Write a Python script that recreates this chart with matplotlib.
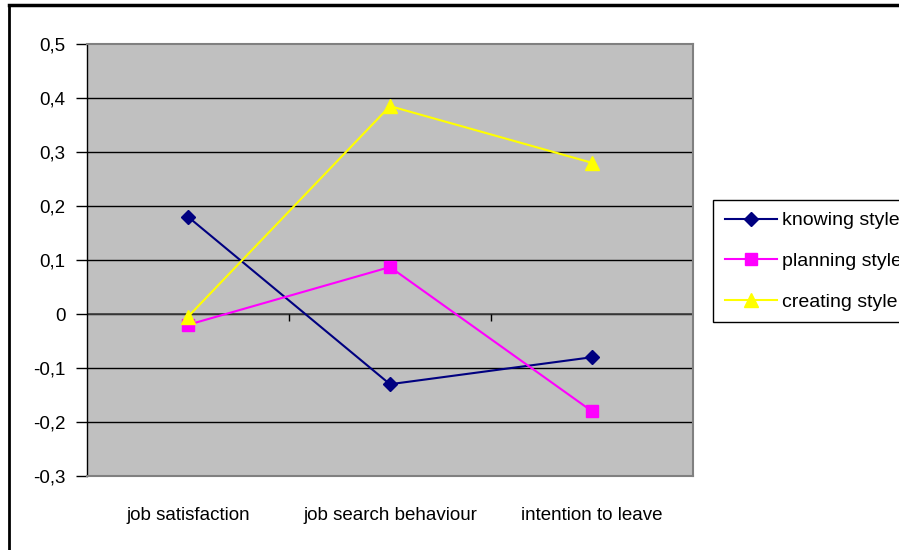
import numpy as np
import matplotlib.pyplot as plt
from matplotlib.lines import Line2D

plt.rcParams['font.family'] = ['Liberation Sans', 'DejaVu Sans']

categories = ['job satisfaction', 'job search behaviour', 'intention to leave']
knowing = [0.18, -0.13, -0.08]
planning = [-0.02, 0.087, -0.18]
creating = [-0.005, 0.385, 0.28]
yticks = [-0.3, -0.2, -0.1, 0, 0.1, 0.2, 0.3, 0.4, 0.5]
ytick_labels = ['-0,3', '-0,2', '-0,1', '0', '0,1', '0,2', '0,3', '0,4', '0,5']

fig = plt.figure(figsize=(8.99, 5.5), dpi=100)
ax = fig.add_axes([0.0968, 0.1345, 0.674, 0.7855])
ax.set_facecolor('#c0c0c0')

x = np.arange(len(categories))
ax.plot(x, knowing, color='#000080', marker='D', markersize=7, lw=1.5, label='knowing style', zorder=3)
ax.plot(x, planning, color='#ff00ff', marker='s', markersize=8, lw=1.5, label='planning style', zorder=3)
ax.plot(x, creating, color='#ffff00', marker='^', markersize=10, lw=1.5, label='creating style', zorder=3)

ax.set_xlim(-0.5, 2.5)
ax.set_ylim(-0.3, 0.5)
ax.set_yticks(yticks)
ax.set_yticklabels(ytick_labels, fontsize=13.5)
ax.set_xticks(x)
ax.set_xticklabels(categories, fontsize=13.5)
ax.tick_params(axis='x', length=0, pad=22)
ax.tick_params(axis='y', direction='out', length=8, width=1, pad=7.5)
for yv in yticks[1:-1]:
    ax.axhline(yv, color='black', lw=1, zorder=1)
ax.axhline(0, color='#404040', lw=1.2, zorder=2)
ax.vlines([0.5, 1.5], -0.013, 0, color='black', lw=1, zorder=2)

for s in ['top', 'right', 'bottom']:
    ax.spines[s].set_color('#808080')
    ax.spines[s].set_linewidth(1.5)
ax.spines['left'].set_color('black')
ax.spines['left'].set_linewidth(1)

fig.legend(loc='upper left', bbox_to_anchor=(0.793, 0.636), fontsize=14,
           frameon=True, fancybox=False, edgecolor='black', framealpha=1,
           handlelength=2.7, handletextpad=0.25, labelspacing=1.18,
           borderpad=0.6, borderaxespad=0)

fig.add_artist(Line2D([0.01, 1.0], [0.991, 0.991], color='black', lw=2.5, transform=fig.transFigure))
fig.add_artist(Line2D([0.01, 0.01], [0.0, 0.991], color='black', lw=2, transform=fig.transFigure))

fig.savefig('out.png', dpi=100)
